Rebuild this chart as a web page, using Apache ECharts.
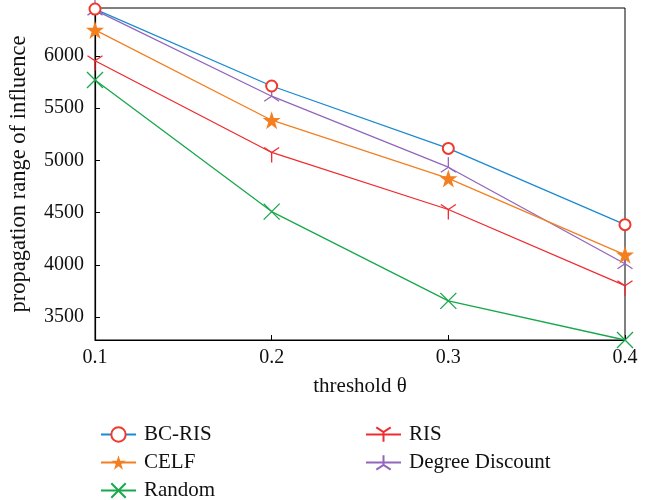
<!DOCTYPE html>
<html><head><meta charset="utf-8">
<script src="https://cdn.jsdelivr.net/npm/echarts@6/dist/echarts.min.js"></script>
<style>html,body{margin:0;padding:0;background:#fff}#c{width:656px;height:500px}</style>
</head><body><div id="c"></div>
<script>
const thresholds = [0.1, 0.2, 0.3, 0.4];
const bcRis = [6450, 5713, 5115, 4385];
const celf = [6250, 5385, 4828, 4096];
const ris = [5955, 5076, 4530, 3800];
const random = [5770, 4510, 3655, 3280];
const degreeDiscount = [6440, 5615, 4935, 4010];
const seriesNames = ['BC-RIS', 'CELF', 'Random', 'RIS', 'Degree Discount'];

const FONT = '"Liberation Serif", "DejaVu Serif", serif';
const pair = arr => thresholds.map((t, i) => [t, arr[i]]);

const symX = 'path://M0,0L10,10M10,0L0,10';
const symTriDown = 'path://M-8.66,-5L0,0L8.66,-5M0,0L0,10';
const symTriUp = 'path://M-8.66,5L0,0L8.66,5M0,0L0,-10';
const symStar = 'path://M50,0L61.8,35.3L100,35.3L69.1,57.1L80.9,93.3L50,71.4L19.1,93.3L30.9,57.1L0,35.3L38.2,35.3Z';

const chart = echarts.init(document.getElementById('c'), null, {renderer: 'canvas'});
chart.setOption({
  animation: false,
  backgroundColor: '#fff',
  grid: {left: 95, right: 31, top: 8, bottom: 160, show: true, borderColor: '#000', borderWidth: 1},
  xAxis: {
    type: 'value', min: 0.1, max: 0.4, interval: 0.1,
    name: 'threshold θ', nameLocation: 'middle', nameGap: 36,
    nameTextStyle: {fontFamily: FONT, fontSize: 21, color: '#111'},
    axisLine: {lineStyle: {color: '#000', width: 1.2}},
    axisTick: {inside: true, length: 5, lineStyle: {color: '#000'}},
    axisLabel: {fontFamily: FONT, fontSize: 20, color: '#111', margin: 8, formatter: v => v.toFixed(1)},
    splitLine: {show: false}
  },
  yAxis: {
    type: 'value', min: 3280, max: 6460, splitNumber: 6,
    name: 'propagation range of influence', nameLocation: 'middle', nameGap: 64,
    nameTextStyle: {fontFamily: FONT, fontSize: 22.5, color: '#111'},
    axisLine: {lineStyle: {color: '#000', width: 1.2}},
    axisTick: {inside: true, length: 5, lineStyle: {color: '#000'}},
    axisLabel: {fontFamily: FONT, fontSize: 20, color: '#111', margin: 11, showMinLabel: false, showMaxLabel: false,
                formatter: v => String(v)},
    splitLine: {show: false}
  },
  legend: [
    {data: ['BC-RIS', 'CELF', 'Random'], orient: 'vertical', left: 95, top: 419, height: 90, itemWidth: 35, itemHeight: 18, itemGap: 7,
     textStyle: {fontFamily: FONT, fontSize: 21, color: '#111', padding: [0, 0, 0, 3]}},
    {data: ['RIS', 'Degree Discount'], orient: 'vertical', left: 360, top: 419, height: 90, itemWidth: 35, itemHeight: 18, itemGap: 7,
     textStyle: {fontFamily: FONT, fontSize: 21, color: '#111', padding: [0, 0, 0, 3]}}
  ],
  series: [
    {name: seriesNames[0], type: 'line', data: pair(bcRis), symbol: 'emptyCircle', symbolSize: 11,
     lineStyle: {color: '#1b8ad0', width: 1.3}, itemStyle: {color: '#f0392b', borderWidth: 1.3}, z: 5},
    {name: seriesNames[1], type: 'line', data: pair(celf), symbol: symStar, symbolSize: 18,
     lineStyle: {color: '#f47f20', width: 1.3}, itemStyle: {color: '#f47f20'}, z: 4},
    {name: seriesNames[2], type: 'line', data: pair(random), symbol: symX, symbolSize: 16,
     lineStyle: {color: '#16a84a', width: 1.3}, itemStyle: {color: 'transparent', borderColor: '#16a84a', borderWidth: 1.3}, z: 3},
    {name: seriesNames[3], type: 'line', data: pair(ris), symbol: symTriDown, symbolSize: 15, symbolOffset: [0, 2.5],
     lineStyle: {color: '#ef2b2f', width: 1.3}, itemStyle: {color: 'transparent', borderColor: '#ef2b2f', borderWidth: 1.3}, z: 3},
    {name: seriesNames[4], type: 'line', data: pair(degreeDiscount), symbol: symTriUp, symbolSize: 15, symbolOffset: [0, -2.5],
     lineStyle: {color: '#9166bb', width: 1.3}, itemStyle: {color: 'transparent', borderColor: '#9166bb', borderWidth: 1.3}, z: 3}
  ]
});
</script></body></html>
